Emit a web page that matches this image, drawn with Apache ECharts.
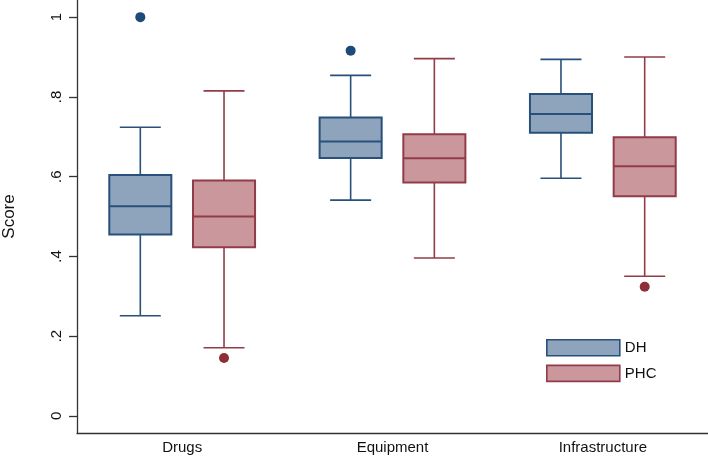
<!DOCTYPE html>
<html>
<head>
<meta charset="utf-8">
<script src="https://cdn.jsdelivr.net/npm/echarts@6/dist/echarts.min.js"></script>
<style>
html,body{margin:0;padding:0;background:#fff;}
#chart{width:708px;height:456px;}
</style>
</head>
<body>
<div id="chart"></div>
<script>
// ---- data ----
const categories = ['Drugs', 'Equipment', 'Infrastructure'];

const dhMin    = [0.251, 0.541, 0.596];
const dhQ1     = [0.455, 0.647, 0.710];
const dhMedian = [0.526, 0.688, 0.757];
const dhQ3     = [0.604, 0.748, 0.807];
const dhMax    = [0.724, 0.854, 0.894];
const dhOutlierCategories = ['Drugs', 'Equipment'];
const dhOutlierValues     = [1.000, 0.916];

const phcMin    = [0.171, 0.396, 0.350];
const phcQ1     = [0.423, 0.585, 0.551];
const phcMedian = [0.500, 0.646, 0.626];
const phcQ3     = [0.590, 0.706, 0.699];
const phcMax    = [0.815, 0.896, 0.900];
const phcOutlierCategories = ['Drugs', 'Infrastructure'];
const phcOutlierValues     = [0.145, 0.324];

const yTickValues = [0, 0.2, 0.4, 0.6, 0.8, 1];
const yTickLabels = ['0', '.2', '.4', '.6', '.8', '1'];

// ---- styling ----
const FONT = 'Liberation Sans, Arial, Helvetica, sans-serif';
const DH_FILL = '#8DA4BC', DH_STROKE = '#28507A', DH_DOT = '#1E4A78';
const PHC_FILL = '#C9979C', PHC_STROKE = '#923C47', PHC_DOT = '#8E2F38';
const OFFSET = 0.199, BOXW = 0.295, CAPW = 0.195;

function boxRows(mins, q1s, meds, q3s, maxs) {
  return categories.map((c, i) => [i, mins[i], q1s[i], meds[i], q3s[i], maxs[i]]);
}
function outlierRows(cats, vals) {
  return cats.map((c, i) => [categories.indexOf(c), vals[i]]);
}

function boxRenderer(side, stroke, fill) {
  return function (params, api) {
    const cat = api.value(0);
    const band = api.size([1, 0])[0];
    const cx = api.coord([cat, 0])[0] + side * band * OFFSET;
    const y = v => api.coord([cat, v])[1];
    const yMin = y(api.value(1)), yQ1 = y(api.value(2)), yMed = y(api.value(3)),
          yQ3 = y(api.value(4)), yMax = y(api.value(5));
    const bw = band * BOXW, cw = band * CAPW;
    const ls = { stroke: stroke, lineWidth: 1.6, fill: null };
    return {
      type: 'group',
      children: [
        { type: 'line', shape: { x1: cx, y1: yQ3, x2: cx, y2: yMax }, style: ls },
        { type: 'line', shape: { x1: cx, y1: yQ1, x2: cx, y2: yMin }, style: ls },
        { type: 'line', shape: { x1: cx - cw / 2, y1: yMax, x2: cx + cw / 2, y2: yMax }, style: ls },
        { type: 'line', shape: { x1: cx - cw / 2, y1: yMin, x2: cx + cw / 2, y2: yMin }, style: ls },
        { type: 'rect', shape: { x: cx - bw / 2, y: yQ3, width: bw, height: yQ1 - yQ3 },
          style: { fill: fill, stroke: stroke, lineWidth: 2 } },
        { type: 'line', shape: { x1: cx - bw / 2, y1: yMed, x2: cx + bw / 2, y2: yMed },
          style: { stroke: stroke, lineWidth: 2 } }
      ]
    };
  };
}
function dotRenderer(side, color) {
  return function (params, api) {
    const cat = api.value(0);
    const band = api.size([1, 0])[0];
    const p = api.coord([cat, api.value(1)]);
    return {
      type: 'circle',
      shape: { cx: p[0] + side * band * OFFSET, cy: p[1], r: 5 },
      style: { fill: color }
    };
  };
}

const chart = echarts.init(document.getElementById('chart'), null, { renderer: 'canvas' });
chart.setOption({
  backgroundColor: '#ffffff',
  animation: false,
  textStyle: { fontFamily: FONT },
  grid: { left: 77, right: 0, top: 0, bottom: 23, containLabel: false, outerBoundsMode: 'none' },
  legend: {
    orient: 'vertical',
    left: 541, top: 334,
    itemWidth: 73, itemHeight: 16, itemGap: 8,
    selectedMode: false,
    textStyle: { fontSize: 15, color: '#111', fontFamily: FONT },
    data: [
      { name: 'DH', icon: 'rect', itemStyle: { color: DH_FILL, borderColor: DH_STROKE, borderWidth: 1.6 } },
      { name: 'PHC', icon: 'rect', itemStyle: { color: PHC_FILL, borderColor: PHC_STROKE, borderWidth: 1.6 } }
    ]
  },
  xAxis: {
    type: 'category',
    data: categories,
    boundaryGap: true,
    axisLine: { show: true, onZero: false, lineStyle: { color: '#333', width: 1.3 } },
    axisTick: { show: false },
    axisLabel: { fontSize: 15, color: '#111', margin: 7, fontFamily: FONT },
    splitLine: { show: false }
  },
  yAxis: {
    type: 'value',
    min: -0.043, max: 1.043,
    name: 'Score',
    nameLocation: 'middle',
    nameRotate: 90,
    nameGap: 59,
    nameTextStyle: { fontSize: 17, color: '#111', fontFamily: FONT },
    axisLine: { show: true, lineStyle: { color: '#333', width: 1.3 } },
    axisTick: { show: true, length: 8, customValues: yTickValues, lineStyle: { color: '#333', width: 1.3 } },
    axisLabel: {
      customValues: yTickValues,
      rotate: 90, fontSize: 15, color: '#111', margin: 13, fontFamily: FONT,
      formatter: v => { const i = yTickValues.findIndex(t => Math.abs(t - v) < 1e-9); return i >= 0 ? yTickLabels[i] : ''; }
    },
    splitLine: { show: false }
  },
  series: [
    { name: 'DH', type: 'custom', itemStyle: { color: DH_FILL, borderColor: DH_STROKE },
      renderItem: boxRenderer(-1, DH_STROKE, DH_FILL),
      encode: { x: 0, y: [1, 2, 3, 4, 5] },
      data: boxRows(dhMin, dhQ1, dhMedian, dhQ3, dhMax) },
    { name: 'PHC', type: 'custom', itemStyle: { color: PHC_FILL, borderColor: PHC_STROKE },
      renderItem: boxRenderer(1, PHC_STROKE, PHC_FILL),
      encode: { x: 0, y: [1, 2, 3, 4, 5] },
      data: boxRows(phcMin, phcQ1, phcMedian, phcQ3, phcMax) },
    { name: 'DH outliers', type: 'custom',
      renderItem: dotRenderer(-1, DH_DOT),
      encode: { x: 0, y: 1 },
      data: outlierRows(dhOutlierCategories, dhOutlierValues) },
    { name: 'PHC outliers', type: 'custom',
      renderItem: dotRenderer(1, PHC_DOT),
      encode: { x: 0, y: 1 },
      data: outlierRows(phcOutlierCategories, phcOutlierValues) }
  ]
});
</script>
</body>
</html>
